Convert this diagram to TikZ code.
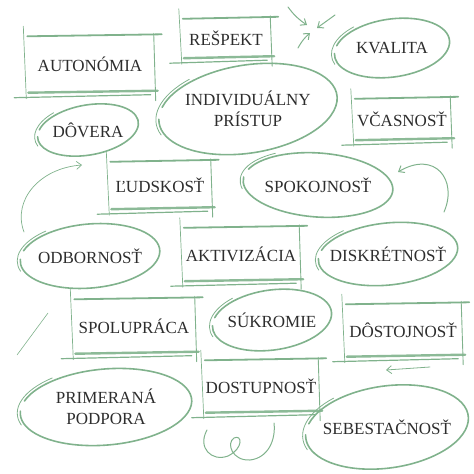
\documentclass[tikz,border=0pt]{standalone}
\usepackage{fontspec}
\setmainfont{Liberation Serif}
\usetikzlibrary{arrows.meta}
\definecolor{sketch}{RGB}{128,178,140}
\definecolor{ink}{RGB}{45,45,45}
\tikzset{
    pen/.style={draw=sketch, line cap=round, line width=1pt},
    word/.style={text=ink, font=\fontsize{17}{21}\selectfont, align=center, inner sep=0pt},
    hint/.style={pen, -{Straight Barb[length=5pt,width=8pt]}},
}

\begin{document}
\begin{tikzpicture}[x=1pt,y=-1pt]
    \useasboundingbox (0,0) rectangle (474,474);

    % boxes
    \node[word, minimum width=131, minimum height=57] (aut) at (90,64) {AUTONÓMIA};
    \node[word, minimum width=92, minimum height=40] (resp) at (226,38) {REŠPEKT};
    \node[word, minimum width=100, minimum height=42] (cas) at (402,119) {VČASNOSŤ};
    \node[word, minimum width=105, minimum height=48] (luds) at (160,185) {ĽUDSKOSŤ};
    \node[word, minimum width=120, minimum height=54] (akt) at (241,254) {AKTIVIZÁCIA};
    \node[word, minimum width=125, minimum height=55] (spol) at (134,326) {SPOLUPRÁCA};
    \node[word, minimum width=120, minimum height=53] (dost) at (403,330) {DÔSTOJNOSŤ};
    \node[word, minimum width=118, minimum height=53] (dostup) at (261,386) {DOSTUPNOSŤ};

    % rings
    \node[word] (kval) at (392,48) {KVALITA};
    \node[word] (indiv) at (248,109) {INDIVIDUÁLNY\\PRÍSTUP};
    \node[word] (dov) at (88,130) {DÔVERA};
    \node[word] (spok) at (318,185) {SPOKOJNOSŤ};
    \node[word] (odb) at (90,256) {ODBORNOSŤ};
    \node[word] (disk) at (388,254) {DISKRÉTNOSŤ};
    \node[word] (sukr) at (272,320) {SÚKROMIE};
    \node[word] (prim) at (106,407) {PRIMERANÁ\\PODPORA};
    \node[word] (sebe) at (387,427) {SEBESTAČNOSŤ};

    \foreach \b in {aut,resp,cas,luds,akt,spol,dost,dostup} {
        \draw[pen, line width=1.8pt] ([shift={(3,1)}]\b.north west) -- ([shift={(6,-1)}]\b.north east);
        \draw[pen, line width=0.7pt] ([shift={(-1,-9)}]\b.north west) -- ([shift={(2,6)}]\b.south west);
        \draw[pen, line width=0.9pt] ([shift={(-2,-2)}]\b.north east) -- ([shift={(0,8)}]\b.south east);
        \draw[pen, line width=2.4pt, opacity=0.9] ([shift={(4,0)}]\b.south west) -- ([shift={(2,-2)}]\b.south east);
        \draw[pen, line width=1.2pt] ([shift={(-10,5)}]\b.south west) -- ([shift={(-5,2)}]\b.south east);
    }

    \foreach \n/\rx/\ry/\r in {kval/58/29/8, indiv/90/44/9, dov/51/25/10, spok/75/32/-4,
        odb/70/32/5, disk/70/31/6, sukr/60/30/8, prim/86/38/5, sebe/82/41/8} {
        \begin{scope}[shift={(\n.center)}, rotate=\r]
            \draw[pen, line width=1.6pt] ({\rx*cos(200)},{\ry*sin(200)}) arc[start angle=200, end angle=545, x radius=\rx, y radius=\ry];
            \draw[pen, line width=0.8pt] ({(\rx+3)*cos(165)},{(\ry+3)*sin(165)}) arc[start angle=165, end angle=235, x radius=\rx+3, y radius=\ry+3];
        \end{scope}
    }

    % loose strokes
    \coordinate (t1) at (288,7);
    \coordinate (t2) at (335,15);
    \coordinate (t3) at (298,48);
    \coordinate (hub) at (312,29);
    \draw[hint] (t1) to[bend right=10] ([shift={(-5,-4)}]hub);
    \draw[hint] (t2) -- ([shift={(5,-1)}]hub);
    \draw[hint] (t3) to[bend left=10] ([shift={(-2,4)}]hub);

    \coordinate (r0) at (444,212);
    \coordinate (r1) at (398,172);
    \draw[hint] (r0) .. controls (458,180) and (435,150) .. (r1);

    \coordinate (l0) at (24,232);
    \coordinate (l1) at (82,165);
    \draw[hint, line width=0.7pt] (l0) .. controls (12,200) and (40,168) .. (l1);

    \coordinate (b0) at (430,367);
    \coordinate (b1) at (386,370);
    \draw[hint, line width=0.8pt] (b0) -- (b1);

    \coordinate (s0) at (17,355);
    \coordinate (s1) at (48,313);
    \draw[pen, line width=0.6pt] (s0) -- (s1);

    \coordinate (c0) at (207,430);
    \coordinate (c1) at (274,423);
    \draw[pen] (c0) .. controls (197,448) and (212,462) .. (228,456)
        .. controls (244,448) and (242,434) .. (234,438)
        .. controls (226,443) and (232,461) .. (250,460)
        .. controls (268,458) and (276,440) .. (c1);
\end{tikzpicture}
\end{document}
